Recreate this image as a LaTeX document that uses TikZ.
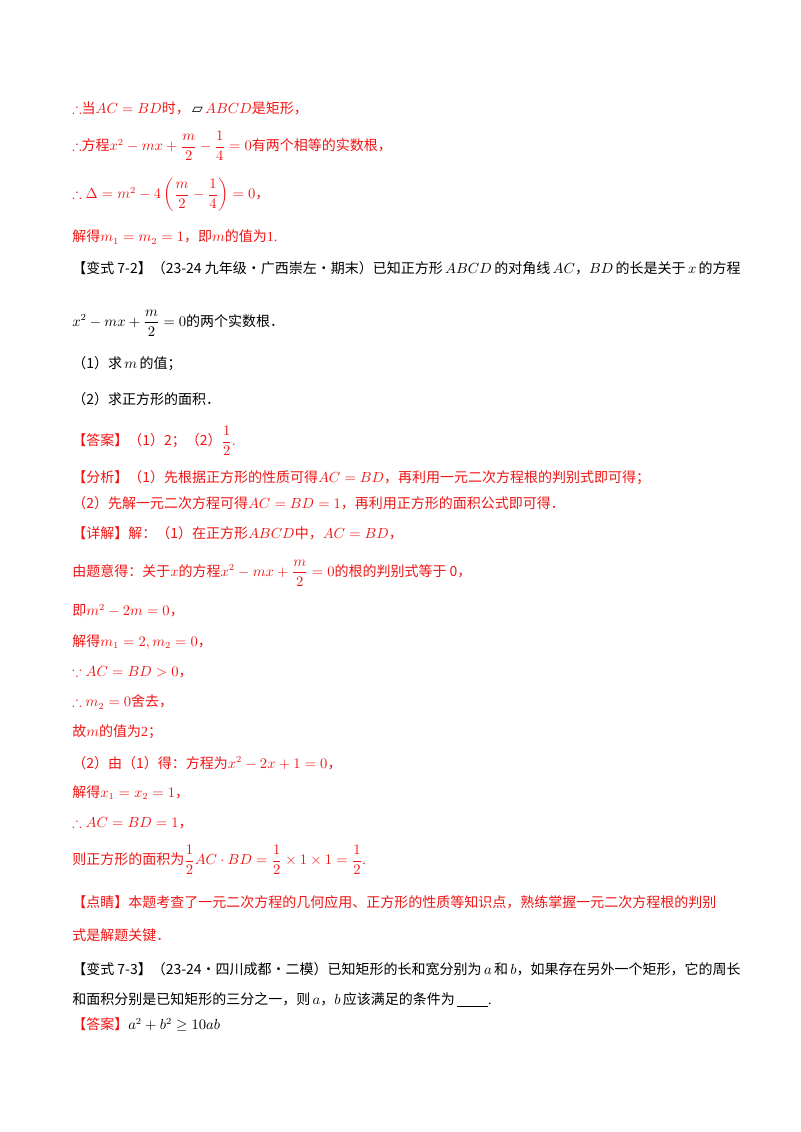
\documentclass[tikz,border=0pt]{standalone}
\usepackage{amsmath,amssymb}
\usepackage{fontspec}
\setmainfont{Liberation Serif}
\newfontfamily\cjkf{Noto Sans CJK SC}
\newfontfamily\djf{DejaVu Sans}
\newcommand{\zh}[1]{{\cjkf #1}}
\definecolor{rd}{RGB}{240,20,20}
\begin{document}
\begin{tikzpicture}[x=0.75pt,y=-0.75pt,
  ln/.style={anchor=west,inner sep=0pt,font=\fontsize{10.5pt}{13pt}\selectfont},
  r/.style={ln,text=rd}]
\useasboundingbox (0,0) rectangle (800,1132);
\node[r] (l1) at (72,108) {$\therefore$\zh{当}$AC=BD$\zh{时，}\,{\djf\textcolor{black}{▱}}\,$ABCD$\zh{是矩形，}};
\node[r] (l2) at (72,146) {$\therefore$\zh{方程}$x^2-mx+\dfrac{m}{2}-\dfrac14=0$\zh{有两个相等的实数根，}};
\node[r] (l3) at (72,195) {$\therefore \Delta=m^2-4\left(\dfrac{m}{2}-\dfrac14\right)=0$\zh{，}};
\node[r] (l4) at (72,237) {\zh{解得}$m_1=m_2=1$\zh{，即}$m$\zh{的值为}1.};
\node[ln] (l5) at (72,268) {\zh{【变式 7-2】（23-24 九年级·广西崇左·期末）已知正方形}\,$ABCD$\,\zh{的对角线}\,$AC$\zh{，}$BD$\,\zh{的长是关于}\,$x$\,\zh{的方程}};
\node[ln] (l6) at (72,323) {$x^2-mx+\dfrac{m}{2}=0$\zh{的两个实数根．}};
\node[ln] (l7) at (72,364) {\zh{（1）求}\,$m$\,\zh{的值；}};
\node[ln] (l8) at (72,399) {\zh{（2）求正方形的面积．}};
\node[r] (l9) at (72,441) {\zh{【答案】（1）2；（2）}$\dfrac12$.};
\node[r] (l10) at (72,478) {\zh{【分析】（1）先根据正方形的性质可得}$AC=BD$\zh{，再利用一元二次方程根的判别式即可得；}};
\node[r] (l11) at (72,503) {\zh{（2）先解一元二次方程可得}$AC=BD=1$\zh{，再利用正方形的面积公式即可得．}};
\node[r] (l12) at (72,533) {\zh{【详解】解：（1）在正方形}$ABCD$\zh{中，}$AC=BD$\zh{，}};
\node[r] (l13) at (72,573) {\zh{由题意得：关于}$x$\zh{的方程}$x^2-mx+\dfrac{m}{2}=0$\zh{的根的判别式等于 0，}};
\node[r] (l14) at (72,611) {\zh{即}$m^2-2m=0$\zh{，}};
\node[r] (l15) at (72,642) {\zh{解得}$m_1=2,m_2=0$\zh{，}};
\node[r] (l16) at (72,672) {$\because AC=BD>0$\zh{，}};
\node[r] (l17) at (72,702) {$\therefore m_2=0$\zh{舍去，}};
\node[r] (l18) at (72,732) {\zh{故}$m$\zh{的值为}2\zh{；}};
\node[r] (l19) at (72,763) {\zh{（2）由（1）得：方程为}$x^2-2x+1=0$\zh{，}};
\node[r] (l20) at (72,793) {\zh{解得}$x_1=x_2=1$\zh{，}};
\node[r] (l21) at (72,823) {$\therefore AC=BD=1$\zh{，}};
\node[r] (l22) at (72,860) {\zh{则正方形的面积为}$\dfrac12 AC\cdot BD=\dfrac12\times1\times1=\dfrac12$.};
\node[r] (l23) at (72,902) {\zh{【点睛】本题考查了一元二次方程的几何应用、正方形的性质等知识点，熟练掌握一元二次方程根的判别}};
\node[r] (l24) at (72,935) {\zh{式是解题关键．}};
\node[ln] (l25) at (72,969) {\zh{【变式 7-3】（23-24·四川成都·二模）已知矩形的长和宽分别为}\,$a$\,\zh{和}\,$b$\zh{，如果存在另外一个矩形，它的周长}};
\node[ln] (l26) at (72,1000) {\zh{和面积分别是已知矩形的三分之一，则}\,$a$\zh{，}$b$\,\zh{应该满足的条件为}\,\underline{\hspace{2.2em}}.};
\node[ln] (l27) at (72,1025) {\textcolor{rd}{\zh{【答案】}}$a^2+b^2\geq 10ab$};
\end{tikzpicture}
\end{document}
